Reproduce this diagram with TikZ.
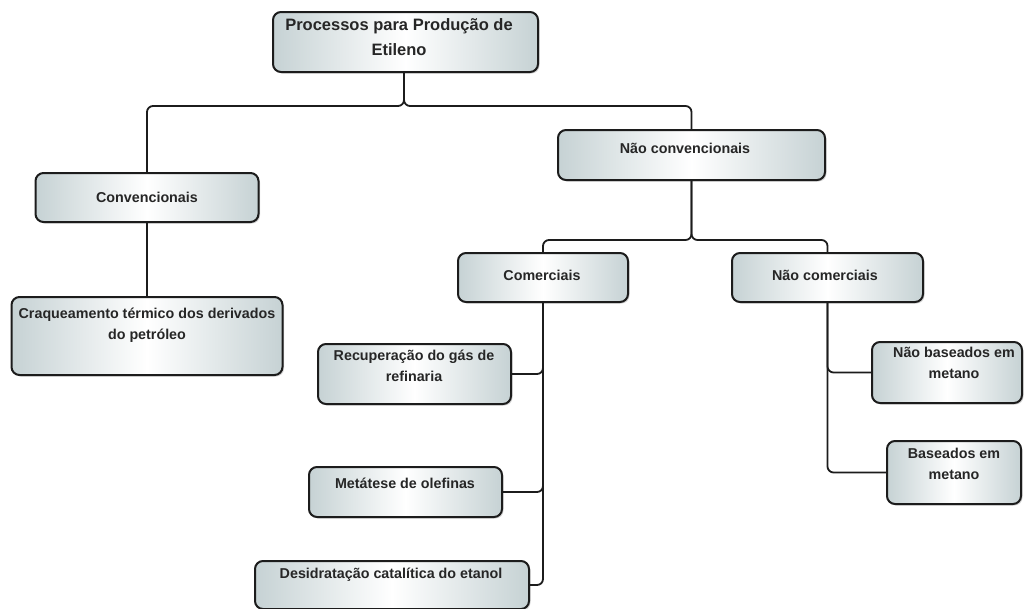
\documentclass[tikz,border=0pt]{standalone}
\usepackage{fontspec}
\setmainfont{Liberation Sans}
\usetikzlibrary{shadows}
\definecolor{side}{RGB}{198,210,212}
\definecolor{edge}{RGB}{28,28,28}
\tikzset{
 bx/.style={draw=edge, line width=2pt, rounded corners=8pt, inner sep=0pt,
   left color=side, right color=side, middle color=white,
   drop shadow={shadow xshift=1.5pt, shadow yshift=-1.5pt, opacity=0.35}},
 lbl/.style={font=\fontsize{14.3}{21}\selectfont\bfseries, align=center, inner sep=0pt, text=black!85},
 ttl/.style={lbl, font=\fontsize{16.5}{25}\selectfont\bfseries},
 conn/.style={draw=edge, line width=1.8pt, rounded corners=6pt},
}
\begin{document}
\begin{tikzpicture}[x=1pt,y=-1pt]
\useasboundingbox (0,0) rectangle (1024,608);
% boxes
\node[bx, minimum width=265, minimum height=60] (top) at (405.5,42) {};
\node[bx, minimum width=223, minimum height=49] (conv) at (147,197.5) {};
\node[bx, minimum width=271, minimum height=78] (craq) at (147,336) {};
\node[bx, minimum width=267, minimum height=50] (nconv) at (691.5,155) {};
\node[bx, minimum width=170, minimum height=49] (com) at (543,277.5) {};
\node[bx, minimum width=191, minimum height=49] (ncom) at (827.5,277.5) {};
\node[bx, minimum width=193, minimum height=60] (rec) at (414.5,374) {};
\node[bx, minimum width=193, minimum height=50] (met) at (405.5,492) {};
\node[bx, minimum width=274, minimum height=48] (des) at (392,585) {};
\node[bx, minimum width=150, minimum height=61] (nbm) at (947,372.5) {};
\node[bx, minimum width=134, minimum height=63] (bm) at (954,472.5) {};
% texts
\node[ttl] (ttop) at (399,37.5) {Processos para Produção de\\Etileno};
\node[lbl] (tconv) at (147,197) {Convencionais};
\node[lbl] (tcraq) at (147,325) {Craqueamento térmico dos derivados\\do petróleo};
\node[lbl] (tnconv) at (685,148) {Não convencionais};
\node[lbl] (tcom) at (542,275) {Comerciais};
\node[lbl] (tncom) at (825,275) {Não comerciais};
\node[lbl] (trec) at (414,366) {Recuperação do gás de\\refinaria};
\node[lbl] (tmet) at (405,483) {Metátese de olefinas};
\node[lbl] (tdes) at (391,575) {Desidratação catalítica do etanol};
\node[lbl] (tnbm) at (954,363) {Não baseados em\\metano};
\node[lbl] (tbm) at (954,464) {Baseados em\\metano};
% connectors
\coordinate (j1) at (404,106);
\coordinate (j2) at (691.5,240);
\draw[conn] ([xshift=-1.5pt]top.south) -- ([xshift=-1.5pt]top.south |- j1) -| (conv.north);
\draw[conn] ([xshift=-1.5pt]top.south) -- ([xshift=-1.5pt]top.south |- j1) -| (nconv.north);
\draw[conn] (conv.south) -- (craq.north);
\draw[conn] (nconv.south) -- (j2) -| (com.north);
\draw[conn] (nconv.south) -- (j2) -| (ncom.north);
\draw[conn] (com.south) |- (rec.east);
\draw[conn] (com.south) |- (met.east);
\draw[conn] (com.south) |- (des.east);
\draw[conn] (ncom.south) |- (nbm.west);
\draw[conn] (ncom.south) |- (bm.west);
\end{tikzpicture}
\end{document}
